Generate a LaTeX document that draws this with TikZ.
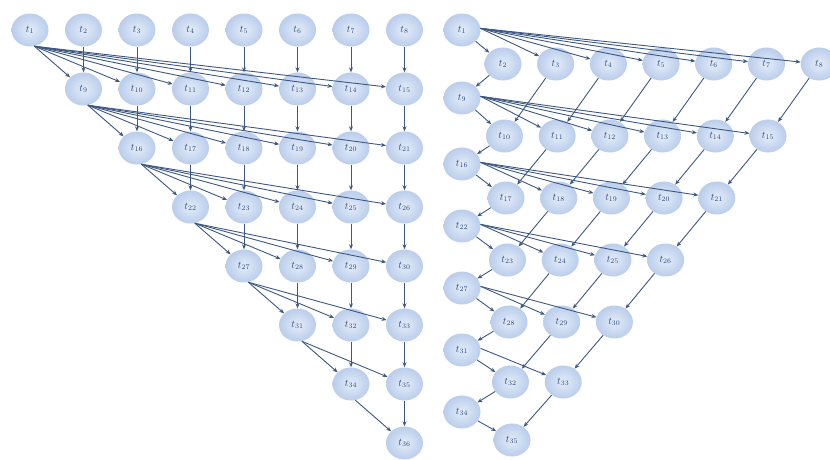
\documentclass[tikz,border=0pt]{standalone}
\usepackage{amsmath}
\usepackage{tikz}
\usetikzlibrary{arrows.meta, shapes.geometric}

\definecolor{taskfill}{RGB}{186,205,235}
\definecolor{taskcore}{RGB}{228,236,249}
\definecolor{depline}{RGB}{60,88,130}
\definecolor{tasktext}{RGB}{40,70,125}

\begin{document}
\begin{tikzpicture}[x=1pt, y=-1pt,
    task/.style={ellipse, minimum width=37pt, minimum height=33pt, inner sep=0pt,
        inner color=taskcore, outer color=taskfill, text=tasktext,
        font=\fontsize{10}{12}\selectfont},
    dep/.style={-{Stealth[length=5pt, width=4pt]}, depline, line width=0.9pt}]
    \useasboundingbox (0,0) rectangle (830,459);
    % Left graph: row r holds the tasks of columns r..7
    \foreach \r in {0,...,7} {
        \foreach \c in {\r,...,7} {
            \pgfmathtruncatemacro{\tn}{1+8*\r-\r*(\r-1)/2+\c-\r}
            \node[task] (L-\r-\c) at ({30+53.5*\c},{30+59*\r}) {$t_{\tn}$};
        }
    }
    % Left graph: the first task of a row feeds the whole next row, the others feed the task below
    \foreach \r in {0,...,6} {
        \pgfmathtruncatemacro{\s}{\r+1}
        \foreach \c in {\s,...,7} {
            \draw[dep] (L-\r-\r.-75) -- (L-\s-\c);
            \draw[dep] (L-\r-\c) -- (L-\s-\c);
        }
    }
    % Right graph: head task of each level, then its row shifted down to the right
    \foreach \k/\dy/\ry in {0/30/64, 1/98/136, 2/164/198, 3/226/260, 4/288/322, 5/350/382, 6/412/440} {
        \pgfmathtruncatemacro{\tn}{1+8*\k-\k*(\k-1)/2}
        \node[task] (R-\k) at (462,\dy) {$t_{\tn}$};
        \pgfmathtruncatemacro{\m}{6-\k}
        \foreach \j in {0,...,\m} {
            \pgfmathtruncatemacro{\tm}{\tn+1+\j}
            \node[task] (R-\k-\j) at ({503+1.5*\k+52.7*\j},\ry) {$t_{\tm}$};
        }
        \draw[dep] (R-\k) -- (R-\k-0);
    }
    % Right graph: head feeds the rest of its row
    \foreach \k in {0,...,5} {
        \pgfmathtruncatemacro{\m}{6-\k}
        \foreach \j in {1,...,\m} {
            \draw[dep] (R-\k.5) -- (R-\k-\j);
        }
    }
    % Right graph: each row task feeds the task down to the left
    \foreach \k in {0,...,5} {
        \pgfmathtruncatemacro{\s}{\k+1}
        \pgfmathtruncatemacro{\m}{6-\k}
        \draw[dep] (R-\k-0) -- (R-\s);
        \foreach \j in {1,...,\m} {
            \pgfmathtruncatemacro{\jj}{\j-1}
            \draw[dep] (R-\k-\j) -- (R-\s-\jj);
        }
    }
\end{tikzpicture}
\end{document}
